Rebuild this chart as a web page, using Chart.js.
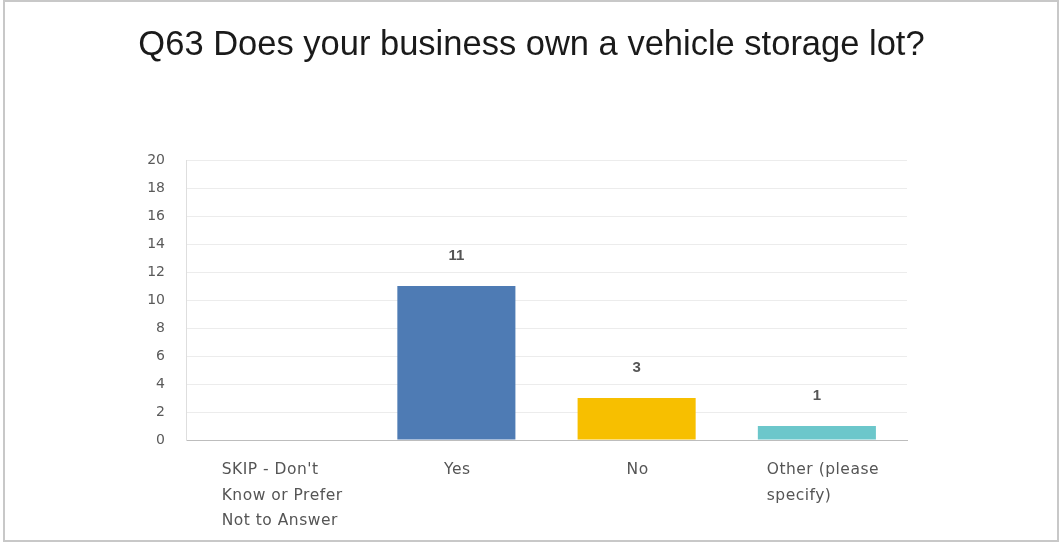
<!DOCTYPE html>
<html>
<head>
<meta charset="utf-8">
<script src="https://cdn.jsdelivr.net/npm/chart.js@4/dist/chart.umd.min.js"></script>
<style>
    body { margin: 0; background: #fff; }
    #frame {
        position: absolute; left: 3px; top: 0; width: 1056px; height: 542px;
        border: 2px solid #c8c8c8; box-sizing: border-box;
    }
    #chartWrap { position: absolute; left: 0; top: 0; width: 1059px; height: 543px; }
</style>
</head>
<body>
<div id="frame"></div>
<div id="chartWrap"><canvas id="q63Chart" width="1059" height="543"></canvas></div>
<script>
// survey answers, one entry per bar
const chartTitle = "Q63 Does your business own a vehicle storage lot?";
const answerLabels = [
    ["SKIP - Don't", "Know or Prefer", "Not to Answer"],
    ["Yes"],
    ["No"],
    ["Other (please", "specify)"]
];
const answerCounts = [0, 11, 3, 1];
const barColors = ["#4e7bb4", "#4e7bb4", "#f7bf00", "#6cc7cb"];
const yMax = 20;
const yStep = 2;

// heading across the whole card, not just the plot
const heading = {
    id: "heading",
    afterDraw(chart) {
        const ctx = chart.ctx;
        ctx.save();
        ctx.font = '34.5px "Liberation Sans", Arial, sans-serif';
        ctx.fillStyle = "#1a1a1a";
        ctx.textAlign = "center";
        ctx.textBaseline = "alphabetic";
        ctx.fillText(chartTitle, 531.5, 55);
        ctx.restore();
    }
};

// value above each bar
const valueLabels = {
    id: "valueLabels",
    afterDatasetsDraw(chart) {
        const ctx = chart.ctx;
        const meta = chart.getDatasetMeta(0);
        ctx.save();
        ctx.font = 'bold 15px "Liberation Sans", Arial, sans-serif';
        ctx.fillStyle = "#555";
        ctx.textAlign = "center";
        ctx.textBaseline = "middle";
        meta.data.forEach((bar, i) => {
            const v = answerCounts[i];
            if (!v) return;
            ctx.fillText(String(v), bar.x, bar.y - 30);
        });
        ctx.restore();
    }
};

// category names under the axis, lines left-aligned inside a centred block
const categoryText = {
    id: "categoryText",
    afterDraw(chart) {
        const ctx = chart.ctx;
        const xScale = chart.scales.x;
        ctx.save();
        ctx.font = '15.5px "DejaVu Sans", sans-serif';
        ctx.letterSpacing = "0.5px";
        ctx.fillStyle = "#555";
        ctx.textAlign = "left";
        ctx.textBaseline = "middle";
        answerLabels.forEach((lines, i) => {
            const cx = xScale.getPixelForValue(i);
            const w = Math.max(...lines.map((l) => ctx.measureText(l).width));
            const left = cx - w / 2 + (lines.length > 1 ? 6 : 1);
            lines.forEach((line, j) => {
                ctx.fillText(line, left, xScale.top + 30 + j * 25.7);
            });
        });
        ctx.restore();
    }
};

new Chart(document.getElementById("q63Chart").getContext("2d"), {
    type: "bar",
    data: {
        labels: answerLabels.map((l) => l.join(" ")),
        datasets: [{
            data: answerCounts,
            backgroundColor: barColors,
            borderWidth: 0,
            barPercentage: 0.655,
            categoryPercentage: 1
        }]
    },
    options: {
        responsive: false,
        animation: false,
        layout: { padding: { left: 0, right: 152, top: 160, bottom: 0 } },
        plugins: {
            legend: { display: false },
            tooltip: { enabled: false },
            title: { display: false }
        },
        scales: {
            x: {
                grid: { display: false },
                border: { color: "#bdbdbd", width: 1 },
                ticks: { display: false },
                afterFit(scale) { scale.height = 103; }
            },
            y: {
                min: 0,
                max: yMax,
                ticks: {
                    stepSize: yStep,
                    padding: 21,
                    color: "#5a5a5a",
                    font: { family: '"DejaVu Sans", sans-serif', size: 14 }
                },
                grid: { color: "#ececec", drawTicks: false },
                border: { color: "#dedede" },
                afterFit(scale) { scale.width = 186; }
            }
        }
    },
    plugins: [heading, valueLabels, categoryText]
});
</script>
</body>
</html>
